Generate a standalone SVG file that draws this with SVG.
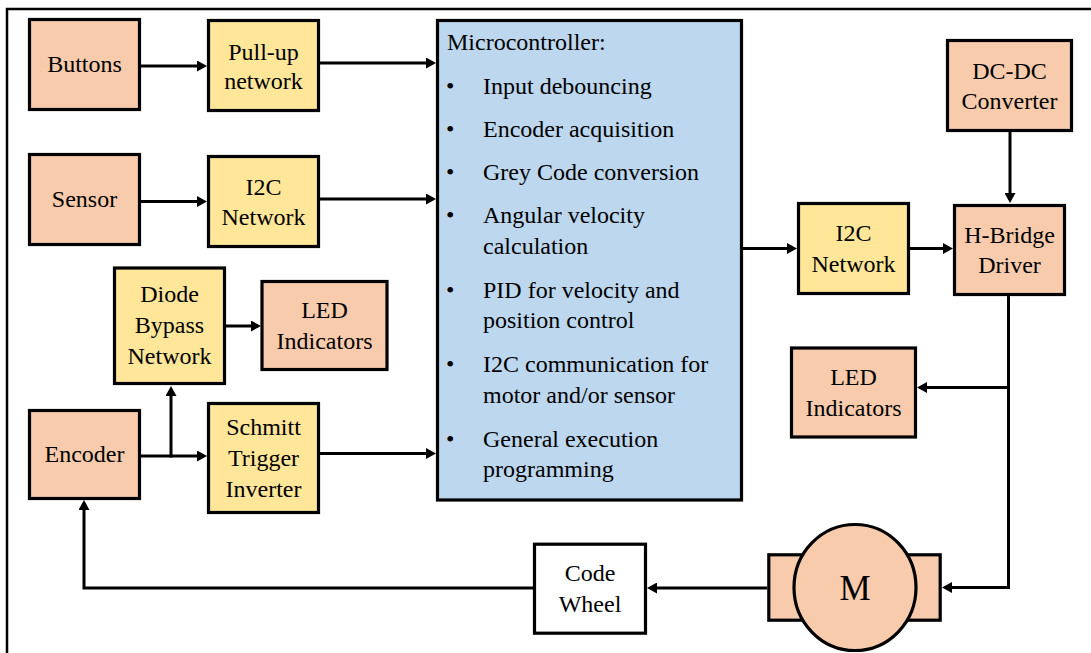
<svg xmlns="http://www.w3.org/2000/svg" width="1091" height="653" viewBox="0 0 1091 653">
<defs>
<style>
.box{stroke:#000;stroke-width:3.2}
.org{fill:#F8CBAD}
.yel{fill:#FFE699}
.blu{fill:#BDD7EE}
.wht{fill:#FFFFFF}
text{font-family:"Liberation Serif","Times New Roman",serif;font-size:24px;fill:#000}
.c{text-anchor:middle}
.con{fill:none;stroke:#000;stroke-width:3}
</style>
<marker id="ah" viewBox="0 0 10 11" refX="7" refY="5.5" markerWidth="10" markerHeight="11" markerUnits="userSpaceOnUse" orient="auto">
<path d="M0,0 L10,5.5 L0,11 z" fill="#000"/>
</marker>
</defs>
<rect width="1091" height="653" fill="#fff"/>
<polyline points="7,653 7,9 1091,9" fill="none" stroke="#000" stroke-width="2.5"/>

<g id="connectors">
<line class="con" x1="140" y1="66" x2="204" y2="66" marker-end="url(#ah)"/>
<line class="con" x1="320" y1="63" x2="433" y2="63" marker-end="url(#ah)"/>
<line class="con" x1="140" y1="201.5" x2="204" y2="201.5" marker-end="url(#ah)"/>
<line class="con" x1="320" y1="199" x2="433" y2="199" marker-end="url(#ah)"/>
<line class="con" x1="140" y1="456" x2="204" y2="456" marker-end="url(#ah)"/>
<polyline class="con" points="171,457.5 171,389" marker-end="url(#ah)"/>
<line class="con" x1="225" y1="326" x2="258" y2="326" marker-end="url(#ah)"/>
<line class="con" x1="320" y1="453.5" x2="433" y2="453.5" marker-end="url(#ah)"/>
<line class="con" x1="743" y1="248.5" x2="794" y2="248.5" marker-end="url(#ah)"/>
<line class="con" x1="910" y1="248.5" x2="950" y2="248.5" marker-end="url(#ah)"/>
<line class="con" x1="1010" y1="132" x2="1010" y2="200" marker-end="url(#ah)"/>
<polyline class="con" points="1008.5,296 1008.5,587.5 945,587.5" marker-end="url(#ah)"/>
<line class="con" x1="1008.5" y1="387.5" x2="920" y2="387.5" marker-end="url(#ah)"/>
<line class="con" x1="767" y1="588" x2="650" y2="588" marker-end="url(#ah)"/>
<polyline class="con" points="534,588 84,588 84,503" marker-end="url(#ah)"/>
</g>

<g id="buttons">
<rect class="box org" x="29.5" y="19.5" width="110" height="90"/>
<text class="c" x="84.5" y="72">Buttons</text>
</g>
<g id="pullup">
<rect class="box yel" x="208.5" y="20.5" width="110" height="90"/>
<text class="c" x="263.5" y="59.5">Pull-up</text>
<text class="c" x="263.5" y="88.5">network</text>
</g>
<g id="sensor">
<rect class="box org" x="29.5" y="154.5" width="110" height="90"/>
<text class="c" x="84.5" y="207">Sensor</text>
</g>
<g id="i2c-left">
<rect class="box yel" x="208.5" y="156.5" width="110" height="90"/>
<text class="c" x="263.5" y="195">I2C</text>
<text class="c" x="263.5" y="225">Network</text>
</g>
<g id="diode">
<rect class="box yel" x="114.5" y="268" width="110" height="115.5"/>
<text class="c" x="169.5" y="302">Diode</text>
<text class="c" x="169.5" y="333">Bypass</text>
<text class="c" x="169.5" y="364">Network</text>
</g>
<g id="led-left">
<rect class="box org" x="262" y="281.5" width="125" height="88"/>
<text class="c" x="324.5" y="318">LED</text>
<text class="c" x="324.5" y="349">Indicators</text>
</g>
<g id="encoder">
<rect class="box org" x="29.5" y="410.5" width="110" height="88"/>
<text class="c" x="84.5" y="462">Encoder</text>
</g>
<g id="schmitt">
<rect class="box yel" x="208.5" y="403.5" width="110" height="109"/>
<text class="c" x="263.5" y="434.5">Schmitt</text>
<text class="c" x="263.5" y="465.5">Trigger</text>
<text class="c" x="263.5" y="496.5">Inverter</text>
</g>
<g id="microcontroller">
<rect class="box blu" x="437.5" y="20.5" width="304" height="479.5"/>
<text x="447" y="50">Microcontroller:</text>
<text x="446" y="94">•</text><text x="483" y="94">Input debouncing</text>
<text x="446" y="137">•</text><text x="483" y="137">Encoder acquisition</text>
<text x="446" y="180">•</text><text x="483" y="180">Grey Code conversion</text>
<text x="446" y="223">•</text><text x="483" y="223">Angular velocity</text>
<text x="483" y="253.5">calculation</text>
<text x="446" y="297.5">•</text><text x="483" y="297.5">PID for velocity and</text>
<text x="483" y="328">position control</text>
<text x="446" y="371.5">•</text><text x="483" y="371.5">I2C communication for</text>
<text x="483" y="402.5">motor and/or sensor</text>
<text x="446" y="446.5">•</text><text x="483" y="446.5">General execution</text>
<text x="483" y="476.5">programming</text>
</g>
<g id="dcdc">
<rect class="box org" x="947.5" y="40.5" width="124" height="90"/>
<text class="c" x="1009.5" y="78.5">DC-DC</text>
<text class="c" x="1009.5" y="108.5">Converter</text>
</g>
<g id="i2c-right">
<rect class="box yel" x="798.5" y="203.5" width="110" height="90"/>
<text class="c" x="853.5" y="241">I2C</text>
<text class="c" x="853.5" y="272">Network</text>
</g>
<g id="hbridge">
<rect class="box org" x="954.5" y="205.5" width="110" height="89"/>
<text class="c" x="1009.5" y="242.5">H-Bridge</text>
<text class="c" x="1009.5" y="273">Driver</text>
</g>
<g id="led-right">
<rect class="box org" x="791.5" y="348" width="124" height="89"/>
<text class="c" x="853.5" y="385">LED</text>
<text class="c" x="853.5" y="415.5">Indicators</text>
</g>
<g id="motor">
<rect class="box org" x="768.8" y="554.8" width="171.4" height="65.4"/>
<ellipse class="box org" cx="855" cy="587.5" rx="61" ry="63"/>
<text class="c" x="855" y="599.5" style="font-size:35px">M</text>
</g>
<g id="codewheel">
<rect class="box wht" x="534.5" y="544.2" width="111" height="89"/>
<text class="c" x="590" y="581">Code</text>
<text class="c" x="590" y="611.5">Wheel</text>
</g>
</svg>
